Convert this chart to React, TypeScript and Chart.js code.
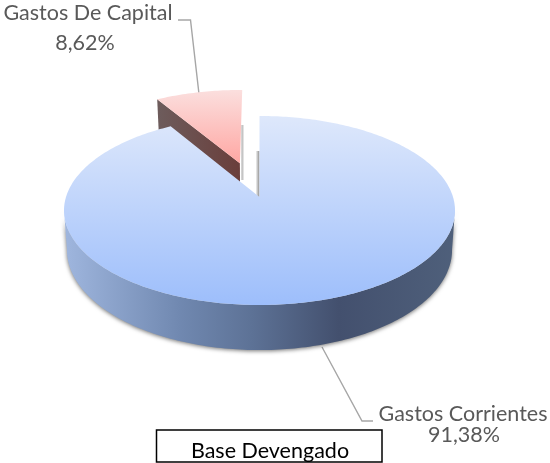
import { useEffect, useRef } from "react";
import { Chart, registerables } from "chart.js";

Chart.register(...registerables);

const categories = ["Gastos Corrientes", "Gastos De Capital"];
const values = [91.38, 8.62];
const percentLabels = ["91,38%", "8,62%"];
const explode = [0, 0.4];
const topColors = [
  ["#dee8fb", "#9dbefb"],
  ["#fbdfde", "#ffa7a3"],
];
const sideColors = [
  ["#a0b7df", "#7088b0", "#5d7296", "#43506e", "#4f607b"],
  ["#6d5c5c", "#6a3e3b"],
];
const baseLabel = "Base Devengado";

// Perspective camera for the pie
const CX = 259.5;
const AY = 197;
const A = 193.5;
const B = 92.6;
const P = 1 / 7;
const H = 38.6;
const FONT = "21.5px Lato";

function project(u: number, v: number, depth = 0): [number, number] {
  const w = 1 + P * v;
  const x = CX + ((A * u) / w) * (1 - 0.015 * depth);
  const y = AY - (B * v) / w + (depth * H) / w;
  return [x, y];
}

function samples(start: number, end: number) {
  const n = Math.max(8, Math.ceil(((end - start) * 180) / Math.PI));
  const out: number[] = [];
  for (let i = 0; i <= n; i++) out.push(start + ((end - start) * i) / n + Math.PI / 2);
  return out;
}

function poly(ctx: CanvasRenderingContext2D, pts: [number, number][]) {
  ctx.beginPath();
  pts.forEach((p, i) => (i ? ctx.lineTo(p[0], p[1]) : ctx.moveTo(p[0], p[1])));
  ctx.closePath();
}

function gradient(ctx: CanvasRenderingContext2D, x0: number, y0: number, x1: number, y1: number, stops: string[]) {
  const g = ctx.createLinearGradient(x0, y0, x1, y1);
  stops.forEach((c, i) => g.addColorStop(i / (stops.length - 1), c));
  return g;
}

function polyline(ctx: CanvasRenderingContext2D, pts: number[][]) {
  ctx.beginPath();
  pts.forEach((p, i) => (i ? ctx.lineTo(p[0], p[1]) : ctx.moveTo(p[0], p[1])));
  ctx.stroke();
}

const pie3d = {
  id: "pie3d",
  beforeDatasetDraw() {
    return false;
  },
  afterDatasetsDraw(chart: any) {
    const ctx: CanvasRenderingContext2D = chart.ctx;
    const arcs = chart.getDatasetMeta(0).data;
    const geo = arcs.map((arc: any, i: number) => {
      const { startAngle, endAngle } = arc.getProps(["startAngle", "endAngle"], true);
      const e = explode[i];
      const mid = (startAngle + endAngle) / 2 + Math.PI / 2;
      return { thetas: samples(startAngle, endAngle), u0: e * Math.sin(mid), v0: e * Math.cos(mid) };
    });
    ctx.save();

    // leader lines
    ctx.strokeStyle = "#a6a6a6";
    ctx.lineWidth = 1.4;
    polyline(ctx, [[178, 20], [190.5, 20], [199, 94]]);
    polyline(ctx, [[322, 347], [362, 421], [373, 421]]);

    // exploded slice: cut face, then top
    const s = geo[1];
    const sRim = (t: number, d = 0) => project(s.u0 + Math.sin(t), s.v0 + Math.cos(t), d);
    const apexS = (d = 0) => project(s.u0, s.v0, d);
    const first = s.thetas[0];
    const last = s.thetas[s.thetas.length - 1];
    const c1 = sRim(first);
    ctx.fillStyle = gradient(ctx, 241.5, 0, 244.5, 0, ["#a8a8a8", "#ffffff"]);
    ctx.fillRect(241.5, 125, 3, 55);
    ctx.fillStyle = gradient(ctx, c1[0], 0, apexS()[0], 0, sideColors[1]);
    poly(ctx, [c1, apexS(), apexS(1), sRim(first, 1)]);
    ctx.fill();
    ctx.fillStyle = gradient(ctx, 0, sRim(last)[1], 0, apexS()[1], topColors[1]);
    poly(ctx, [apexS(), ...s.thetas.map((t: number) => sRim(t))]);
    ctx.fill();

    // main slice: outer wall with soft shadow
    const m = geo[0];
    const visible = m.thetas.filter((t: number) => Math.cos(t) <= -P + 0.005);
    const wall: [number, number][] = [
      ...visible.map((t: number) => project(Math.sin(t), Math.cos(t))),
      ...visible.slice().reverse().map((t: number) => project(Math.sin(t), Math.cos(t), 1)),
    ];
    const [xl] = project(-1, -P);
    const [xr] = project(1, -P);
    ctx.save();
    ctx.shadowColor = "rgba(0,0,0,0.55)";
    ctx.shadowBlur = 4;
    ctx.shadowOffsetY = 1;
    const wg = ctx.createLinearGradient(xl, 0, xr, 0);
    [0, 0.3, 0.48, 0.7, 1].forEach((o, i) => wg.addColorStop(o, sideColors[0][i]));
    ctx.fillStyle = wg;
    poly(ctx, wall);
    ctx.fill();
    ctx.restore();

    // grey sliver of the main slice's cut face
    ctx.fillStyle = gradient(ctx, CX - 4, 0, CX - 1, 0, ["#ffffff", "#a8a8a8"]);
    ctx.fillRect(CX - 4, 151, 4, 46);

    // main slice top
    ctx.fillStyle = gradient(ctx, 0, project(0, 1)[1], 0, project(0, -1)[1], topColors[0]);
    poly(ctx, [project(0, 0), ...m.thetas.map((t: number) => project(Math.sin(t), Math.cos(t)))]);
    ctx.fill();

    // data labels
    ctx.fillStyle = "#595959";
    ctx.font = FONT;
    ctx.textAlign = "center";
    ctx.textBaseline = "middle";
    ctx.fillText(categories[1], 88, 13);
    ctx.fillText(percentLabels[1], 85, 43);
    ctx.fillText(categories[0], 463, 414);
    ctx.fillText(percentLabels[0], 464, 435);

    // caption box
    ctx.strokeStyle = "#000";
    ctx.lineWidth = 1.5;
    ctx.strokeRect(156.5, 430, 225.5, 32);
    ctx.fillStyle = "#000";
    ctx.fillText(baseLabel, 270, 451);
    ctx.restore();
  },
};

export default function App() {
  const ref = useRef<HTMLCanvasElement>(null);
  useEffect(() => {
    document.body.style.margin = "0";
    const chart = new Chart(ref.current!, {
      type: "pie",
      data: {
        labels: categories,
        datasets: [{ data: values, backgroundColor: topColors.map((c) => c[1]), borderWidth: 0 }],
      },
      options: {
        animation: false,
        responsive: false,
        devicePixelRatio: 1,
        plugins: { legend: { display: false }, tooltip: { enabled: false }, title: { display: false } },
      },
      plugins: [pie3d],
    } as any);
    return () => chart.destroy();
  }, []);
  return <canvas ref={ref} width={550} height={463} style={{ display: "block" }} />;
}
